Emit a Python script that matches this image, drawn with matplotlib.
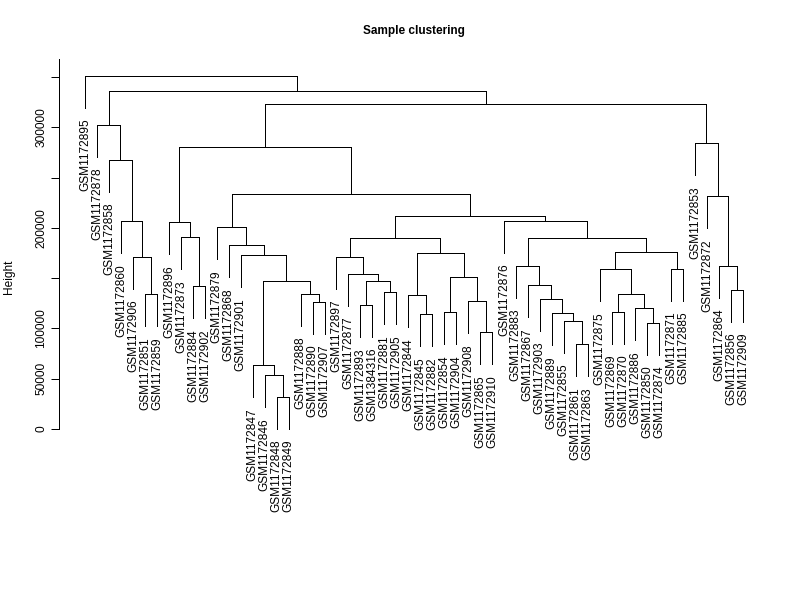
import matplotlib
matplotlib.use("Agg")
import matplotlib.pyplot as plt

plt.rcParams['font.family'] = ['Liberation Sans', 'DejaVu Sans']

# Leaf labels in display order (left to right)
labels = [
    "GSM1172895", "GSM1172878", "GSM1172858", "GSM1172860", "GSM1172906",
    "GSM1172851", "GSM1172859", "GSM1172896", "GSM1172873", "GSM1172884",
    "GSM1172902", "GSM1172879", "GSM1172868", "GSM1172901", "GSM1172847",
    "GSM1172846", "GSM1172848", "GSM1172849", "GSM1172888", "GSM1172890",
    "GSM1172907", "GSM1172897", "GSM1172877", "GSM1172893", "GSM1384316",
    "GSM1172881", "GSM1172905", "GSM1172844", "GSM1172845", "GSM1172882",
    "GSM1172854", "GSM1172904", "GSM1172908", "GSM1172865", "GSM1172910",
    "GSM1172876", "GSM1172883", "GSM1172867", "GSM1172903", "GSM1172889",
    "GSM1172855", "GSM1172861", "GSM1172863", "GSM1172875", "GSM1172869",
    "GSM1172870", "GSM1172886", "GSM1172850", "GSM1172874", "GSM1172871",
    "GSM1172885", "GSM1172853", "GSM1172872", "GSM1172864", "GSM1172856",
    "GSM1172909",
]

# hclust-style merge table: negative = leaf (1-based display position), positive = earlier merge row
merge_left = [-17, -16, -15, -20, -19, 3, -14, -13, -12, -10, -9, -8, -6, -5, -4, -3, -2,
              -24, -26, 18, -23, -22, -29, -28, -31, -34, -33, 25, 24, 22,
              -42, -41, -40, -39, -38, -37, -45, -48, -47, 37, -44, -50, 41, 36, -36,
              30, 9, 12, -55, -54, -53, -52, 48, 17, -1]
merge_right = [-18, 1, 2, -21, 4, 5, 6, 7, 8, -11, 10, 11, -7, 13, 14, 15, 16,
               -25, -27, 19, 20, 21, -30, 23, -32, -35, 26, 27, 28, 29,
               -43, 31, 32, 33, 34, 35, -46, -49, 38, 39, 40, -51, 42, 43, 44,
               45, 46, 47, -56, 49, 50, 51, 52, 53, 54]
merge_height = [32100, 53400, 63300, 126600, 134200, 146900, 172700, 182700, 200600,
                141900, 190600, 205500, 133900, 171300, 206500, 267500, 302300,
                123000, 135900, 146900, 154100, 171300, 114100, 132900, 116000,
                96200, 127000, 150800, 174700, 189600,
                84200, 107700, 115000, 129300, 142900, 162100, 116600, 105700,
                120000, 134500, 158800, 159400, 176300, 189600, 206800,
                211800, 233400, 280100, 138200, 162400, 231400, 284100,
                322900, 335800, 351000]

y_ticks = [0, 50000, 100000, 150000, 200000, 250000, 300000, 350000]
y_tick_labels = ["0", "50000", "100000", "", "200000", "", "300000", ""]

title = "Sample clustering"
ylabel = "Height"

# ---- layout (pixel geometry of the reference) ----
W, H = 800, 600
ax_l, ax_r, ax_t, ax_b = 59.3, 769.8, 59.3, 526.6
x0_px, dx_px = 85.3, 11.96
y0_px, sy = 429.0, 1.0057 / 1000.0

fig = plt.figure(figsize=(8, 6), dpi=100)
ax = fig.add_axes([ax_l / W, 1 - ax_b / H, (ax_r - ax_l) / W, (ax_b - ax_t) / H])
ax.set_xlim(1 + (ax_l - x0_px) / dx_px, 1 + (ax_r - x0_px) / dx_px)
ytop = (y0_px - ax_t) / sy
ybot = (y0_px - ax_b) / sy
ax.set_ylim(ybot, ytop)

n_merge = len(merge_height)
hang = 0.1 * (max(merge_height) - min(merge_height))

xs = [0.0] * n_merge
parent_h = {}
for k in range(n_merge):
    cx = []
    for c in (merge_left[k], merge_right[k]):
        if c < 0:
            cx.append(float(-c))
            parent_h[-c] = merge_height[k]
        else:
            cx.append(xs[c - 1])
    xs[k] = (cx[0] + cx[1]) / 2.0

lw = 0.72
for k in range(n_merge):
    h = merge_height[k]
    pts = []
    for c in (merge_left[k], merge_right[k]):
        if c < 0:
            pts.append((float(-c), h - hang))
        else:
            pts.append((xs[c - 1], merge_height[c - 1]))
    (xl, hl), (xr, hr) = pts
    ax.plot([xl, xl, xr, xr], [hl, h, h, hr], color='black', lw=lw,
            solid_capstyle='projecting', solid_joinstyle='miter', antialiased=False)

for i, lab in enumerate(labels, start=1):
    tip = parent_h[i] - hang
    ax.annotate(lab, xy=(i, tip), xytext=(0, -7.6), textcoords='offset points',
                rotation=90, rotation_mode='anchor', ha='right', va='center',
                fontsize=8.6, annotation_clip=False)

for s in ('top', 'right', 'bottom'):
    ax.spines[s].set_visible(False)
ax.spines['left'].set_bounds(0, ytop)
ax.spines['left'].set_linewidth(lw)
ax.set_xticks([])
ax.set_yticks(y_ticks)
ax.set_yticklabels(y_tick_labels)
ax.tick_params(axis='y', length=5.8, width=lw, pad=5.0, labelsize=8.6)
for t in ax.get_yticklabels():
    t.set_rotation(90)
    t.set_rotation_mode('anchor')
    t.set_ha('center')
    t.set_va('baseline')

fig.text(414.4 / W, 1 - 31.0 / H, title, ha='center', va='center',
         fontsize=8.5, fontweight='bold')
fig.text(9.5 / W, 1 - 277.0 / H, ylabel, rotation=90, ha='center', va='center',
         fontsize=8.6)

fig.savefig("out.png", dpi=100)
